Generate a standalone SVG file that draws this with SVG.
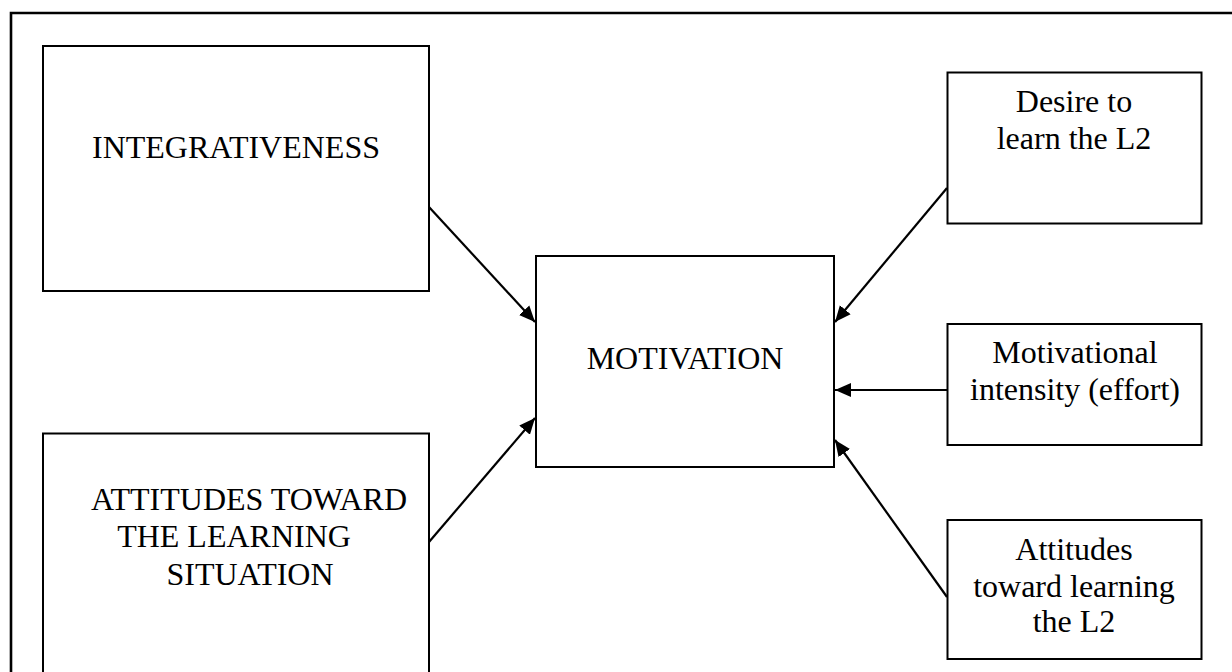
<svg xmlns="http://www.w3.org/2000/svg" width="1232" height="672" viewBox="0 0 1232 672">
<defs>
<style>
.box{fill:#fff;stroke:#000;stroke-width:2}
.t{font-family:"Liberation Serif","Times New Roman",serif;font-size:32px;fill:#000;text-anchor:middle}
.c{stroke:#000;stroke-width:2.2;fill:none}
</style>
<marker id="ah" markerUnits="userSpaceOnUse" markerWidth="18" markerHeight="16" refX="16" refY="8" orient="auto">
<path d="M0,1 L16,8 L0,15 Z" fill="#000"/>
</marker>
</defs>
<rect width="1232" height="672" fill="#fff"/>
<path d="M11,680 L11,13 L1240,13" fill="none" stroke="#000" stroke-width="2.6"/>
<g id="integrativeness">
<rect class="box" x="43" y="46" width="386" height="245"/>
<text class="t" x="236" y="158">INTEGRATIVENESS</text>
</g>
<g id="attitudes-situation">
<rect class="box" x="43" y="433.5" width="386" height="260"/>
<text class="t" x="249" y="510">ATTITUDES TOWARD</text>
<text class="t" x="234" y="547">THE LEARNING</text>
<text class="t" x="250" y="585">SITUATION</text>
</g>
<g id="motivation">
<rect class="box" x="536" y="256" width="298" height="211"/>
<text class="t" x="685" y="369">MOTIVATION</text>
</g>
<g id="desire">
<rect class="box" x="947.5" y="72.5" width="254" height="151"/>
<text class="t" x="1074" y="112">Desire to</text>
<text class="t" x="1074" y="149">learn the L2</text>
</g>
<g id="intensity">
<rect class="box" x="947.5" y="324" width="254" height="121"/>
<text class="t" x="1075" y="363">Motivational</text>
<text class="t" x="1075" y="400">intensity (effort)</text>
</g>
<g id="attitudes-l2">
<rect class="box" x="947.5" y="520" width="254" height="139"/>
<text class="t" x="1074" y="560">Attitudes</text>
<text class="t" x="1074" y="597">toward learning</text>
<text class="t" x="1074" y="632">the L2</text>
</g>
<g id="connectors">
<line class="c" x1="429" y1="207" x2="535" y2="322" marker-end="url(#ah)"/>
<line class="c" x1="429" y1="542" x2="535" y2="418" marker-end="url(#ah)"/>
<line class="c" x1="947" y1="188" x2="835" y2="322" marker-end="url(#ah)"/>
<line class="c" x1="947" y1="390" x2="835" y2="390" marker-end="url(#ah)"/>
<line class="c" x1="947" y1="597" x2="835" y2="440" marker-end="url(#ah)"/>
</g>
</svg>
